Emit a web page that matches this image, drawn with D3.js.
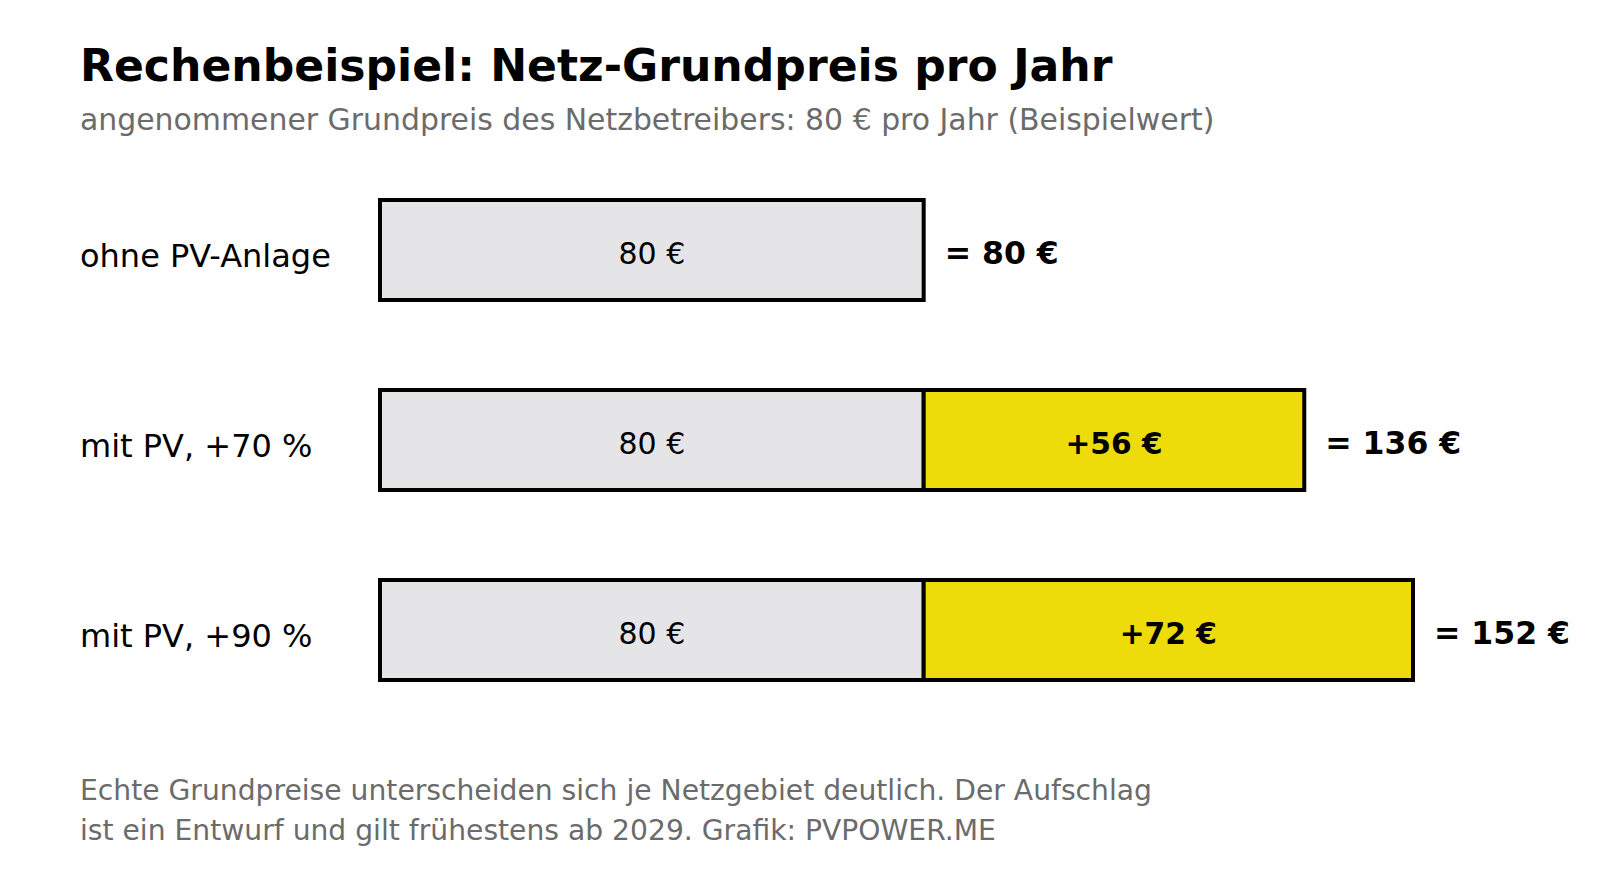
<!DOCTYPE html>
<html>
<head>
<meta charset="utf-8">
<script src="https://cdn.jsdelivr.net/npm/d3@7"></script>
<style>
  html, body { margin: 0; padding: 0; background: #ffffff; }
  svg { display: block; font-family: "DejaVu Sans", sans-serif; }
</style>
</head>
<body>
<svg id="chart" width="1600" height="880"></svg>
<script>
// ---- data ----
const categories = ["ohne PV-Anlage", "mit PV, +70 %", "mit PV, +90 %"];
const baseValues = [80, 80, 80];
const surchargeValues = [0, 56, 72];
const titleText = "Rechenbeispiel: Netz-Grundpreis pro Jahr";
const subtitleText = "angenommener Grundpreis des Netzbetreibers: 80 € pro Jahr (Beispielwert)";
const footnoteLines = [
  "Echte Grundpreise unterscheiden sich je Netzgebiet deutlich. Der Aufschlag",
  "ist ein Entwurf und gilt frühestens ab 2029. Grafik: PVPOWER.ME"
];

// ---- layout ----
const svg = d3.select("#chart");
const left = 80;
const barX0 = 380, barX1 = 1413;
const totals = baseValues.map((b, i) => b + surchargeValues[i]);

const x = d3.scaleLinear().domain([0, d3.max(totals)]).range([barX0, barX1]);
const y = d3.scalePoint().domain(categories).range([250, 630]);
const barH = 100;

const GRAY = "#e5e5e8";
const YELLOW = "#eddb0a";
const TEXTGRAY = "#6b6b6b";

// title & subtitle
svg.append("text").attr("x", left).attr("y", 81)
  .attr("font-size", 44.1).attr("font-weight", "bold").attr("fill", "#000")
  .text(titleText);
svg.append("text").attr("x", left).attr("y", 130)
  .attr("font-size", 29.9).attr("fill", TEXTGRAY)
  .text(subtitleText);

const rows = categories.map((c, i) => ({
  cat: c, base: baseValues[i], extra: surchargeValues[i], total: totals[i]
}));

const g = svg.append("g");

// row labels
g.selectAll("text.cat").data(rows).join("text")
  .attr("class", "cat")
  .attr("x", left)
  .attr("y", d => y(d.cat) + 17)
  .attr("font-size", 32)
  .attr("fill", "#000")
  .text(d => d.cat);

// base segments
g.selectAll("rect.base").data(rows).join("rect")
  .attr("class", "base")
  .attr("x", x(0))
  .attr("y", d => y(d.cat) - barH / 2)
  .attr("width", d => x(d.base) - x(0))
  .attr("height", barH)
  .attr("fill", GRAY)
  .attr("stroke", "#000")
  .attr("stroke-width", 4);

// surcharge segments
g.selectAll("rect.extra").data(rows.filter(d => d.extra > 0)).join("rect")
  .attr("class", "extra")
  .attr("x", d => x(d.base))
  .attr("y", d => y(d.cat) - barH / 2)
  .attr("width", d => x(d.total) - x(d.base))
  .attr("height", barH)
  .attr("fill", YELLOW)
  .attr("stroke", "#000")
  .attr("stroke-width", 4);

// base labels
g.selectAll("text.baselbl").data(rows).join("text")
  .attr("class", "baselbl")
  .attr("x", d => (x(0) + x(d.base)) / 2)
  .attr("y", d => y(d.cat) + 14)
  .attr("text-anchor", "middle")
  .attr("font-size", 30)
  .attr("fill", "#000")
  .text(d => `${d.base} €`);

// surcharge labels
g.selectAll("text.extralbl").data(rows.filter(d => d.extra > 0)).join("text")
  .attr("class", "extralbl")
  .attr("x", d => (x(d.base) + x(d.total)) / 2)
  .attr("y", d => y(d.cat) + 14)
  .attr("text-anchor", "middle")
  .attr("font-size", 29.7)
  .attr("font-weight", "bold")
  .attr("fill", "#000")
  .text(d => `+${d.extra} €`);

// total labels
g.selectAll("text.total").data(rows).join("text")
  .attr("class", "total")
  .attr("x", d => x(d.total) + 21)
  .attr("y", d => y(d.cat) + 14)
  .attr("font-size", 31.5)
  .attr("font-weight", "bold")
  .attr("fill", "#000")
  .text(d => `= ${d.total} €`);

// footnote
svg.selectAll("text.foot").data(footnoteLines).join("text")
  .attr("class", "foot")
  .attr("x", left)
  .attr("y", (d, i) => 800 + i * 40)
  .attr("font-size", 28.2)
  .attr("fill", TEXTGRAY)
  .text(d => d);
</script>
</body>
</html>
